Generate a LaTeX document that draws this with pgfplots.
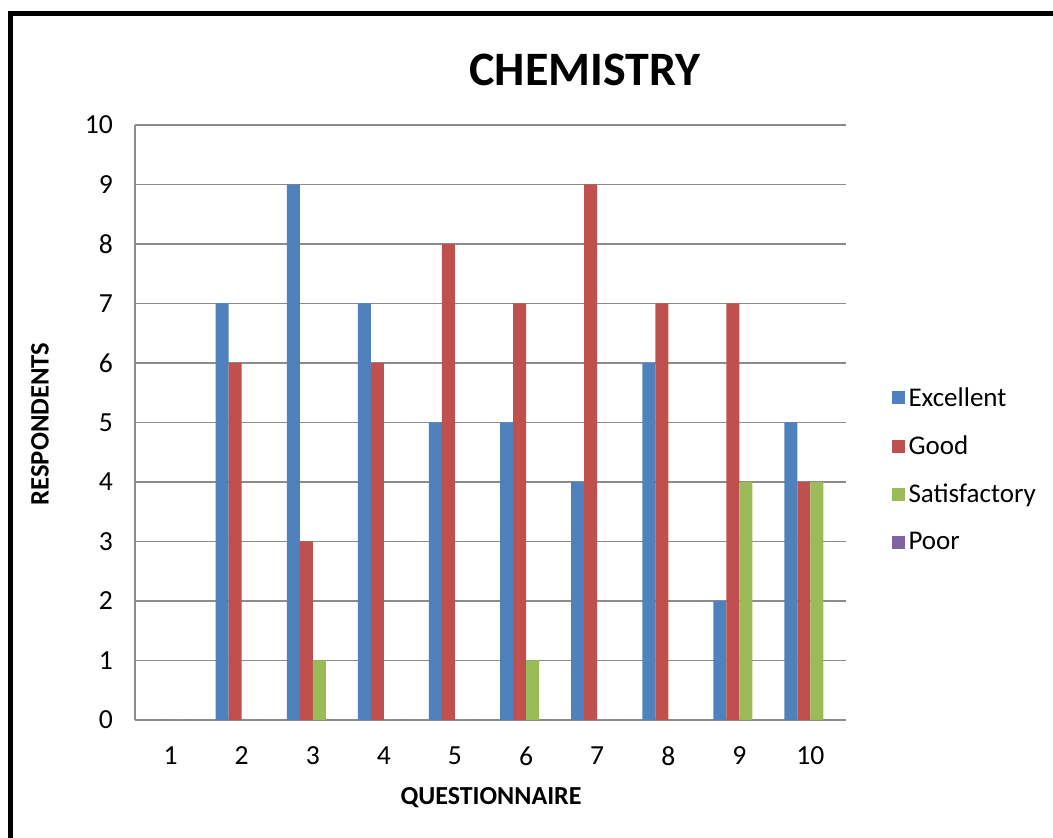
\documentclass[border=0pt]{standalone}
\usepackage{fontspec}
\setmainfont{Carlito}
\usepackage{pgfplots}
\pgfplotsset{compat=1.18}
\definecolor{exc}{HTML}{4F81BD}
\definecolor{goo}{HTML}{C0504D}
\definecolor{sat}{HTML}{9BBB59}
\definecolor{poo}{HTML}{8064A2}
\definecolor{grd}{HTML}{8C8C8C}
\begin{document}
\begin{tikzpicture}
\path[use as bounding box] (0,0) rectangle (526.5pt,419pt);
\draw[line width=2.5pt] (5pt,0) -- (5pt,412pt) -- (526.5pt,412pt);
\node[font=\bfseries\fontsize{24}{29}\selectfont] at (292.5pt,384pt) {CHEMISTRY};
\node[font=\bfseries\fontsize{13.3}{16}\selectfont, rotate=90] at (20pt,207pt) {RESPONDENTS};
\node[font=\bfseries\fontsize{13}{16}\selectfont] at (245.5pt,20pt) {QUESTIONNAIRE};
\begin{axis}[
  at={(67.5pt,59pt)}, anchor=south west,
  width=355.5pt, height=297.5pt, scale only axis,
  ybar=0pt, bar width=6.5pt,
  xmin=0.5, xmax=10.5, ymin=0, ymax=10,
  xtick={1,...,10}, ytick={0,...,10},
  axis x line*=bottom, axis y line*=left,
  axis line style={grd, line width=0.75pt},
  ymajorgrids, grid style={grd, line width=0.75pt},
  major tick length=4pt,
  ytick style={grd, line width=0.75pt},
  xtick style={draw=none},
  tick label style={font=\fontsize{13.8}{16}\selectfont},
  /pgf/number format/assume math mode=true,
  xticklabel style={yshift=-6pt},
  yticklabel style={xshift=-7.5pt},
  legend style={draw=none, at={(1.055,0.42)}, anchor=west,
    font=\fontsize{13.5}{16}\selectfont, row sep=9.3pt,
    /tikz/every even column/.append style={column sep=2pt}},
  legend cell align=left,
  legend image code/.code={\fill[#1] (0pt,-3pt) rectangle (6.5pt,3.5pt);},
]
\addplot[fill=exc, draw=none] coordinates {(1,0) (2,7) (3,9) (4,7) (5,5) (6,5) (7,4) (8,6) (9,2) (10,5)};
\addplot[fill=goo, draw=none] coordinates {(1,0) (2,6) (3,3) (4,6) (5,8) (6,7) (7,9) (8,7) (9,7) (10,4)};
\addplot[fill=sat, draw=none] coordinates {(1,0) (2,0) (3,1) (4,0) (5,0) (6,1) (7,0) (8,0) (9,4) (10,4)};
\addplot[fill=poo, draw=none] coordinates {(1,0) (2,0) (3,0) (4,0) (5,0) (6,0) (7,0) (8,0) (9,0) (10,0)};
\legend{Excellent, Good, Satisfactory, Poor}
\end{axis}
\end{tikzpicture}
\end{document}
